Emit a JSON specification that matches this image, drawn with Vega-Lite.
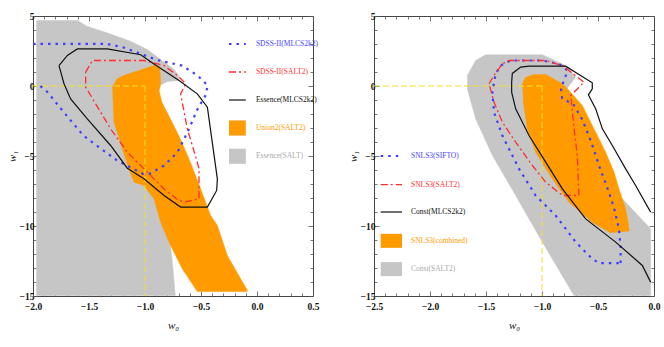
{
  "$schema": "https://vega.github.io/schema/vega-lite/v6.json",
  "autosize": {"type": "pad"},
  "padding": {"left": 5, "top": 10, "right": 0, "bottom": 0},
  "background": "white",
  "spacing": 61,
  "bounds": "flush",
  "config": {
    "view": {"stroke": "#444444", "strokeWidth": 1},
    "axis": {"domain": false, "grid": false, "tickColor": "#555555", "tickWidth": 0.8, "labelFont": "Liberation Serif", "labelFontSize": 9.5, "labelFontWeight": "bold", "labelColor": "#111111", "labelOverlap": false, "labelFlush": false, "titleFont": "Liberation Serif", "titleFontSize": 11, "titleFontStyle": "italic", "titleFontWeight": "normal", "titleColor": "#111111"}
  },
  "datasets": {
    "L": [
      {"s":"gray","g":"c","i":0,"x":-1.97,"y":4.68},{"s":"gray","g":"c","i":1,"x":-1.60,"y":4.68},{"s":"gray","g":"c","i":2,"x":-1.52,"y":4.27},{"s":"gray","g":"c","i":3,"x":-1.34,"y":3.80},{"s":"gray","g":"c","i":4,"x":-1.13,"y":3.20},{"s":"gray","g":"c","i":5,"x":-0.98,"y":2.61},{"s":"gray","g":"c","i":6,"x":-0.86,"y":1.89},{"s":"gray","g":"c","i":7,"x":-0.74,"y":1.18},{"s":"gray","g":"c","i":8,"x":-0.70,"y":0.75},{"s":"gray","g":"c","i":9,"x":-0.70,"y":0.39},{"s":"gray","g":"c","i":10,"x":-0.80,"y":0.32},{"s":"gray","g":"c","i":11,"x":-0.86,"y":0.08},{"s":"gray","g":"c","i":12,"x":-0.875,"y":-0.32},{"s":"gray","g":"c","i":13,"x":-0.87,"y":-1.2},{"s":"gray","g":"c","i":14,"x":-0.83,"y":-5.4},{"s":"gray","g":"c","i":15,"x":-0.79,"y":-10.2},{"s":"gray","g":"c","i":16,"x":-0.77,"y":-11.6},{"s":"gray","g":"c","i":17,"x":-0.75,"y":-13.06},{"s":"gray","g":"c","i":18,"x":-0.73,"y":-14.96},{"s":"gray","g":"c","i":19,"x":-1.97,"y":-14.96},
      {"s":"orange","g":"c","i":0,"x":-1.29,"y":-0.08},{"s":"orange","g":"c","i":1,"x":-1.25,"y":0.51},{"s":"orange","g":"c","i":2,"x":-1.19,"y":0.75},{"s":"orange","g":"c","i":3,"x":-0.92,"y":1.46},{"s":"orange","g":"c","i":4,"x":-0.87,"y":1.40},{"s":"orange","g":"c","i":5,"x":-0.86,"y":0.2},{"s":"orange","g":"c","i":6,"x":-0.875,"y":-0.32},{"s":"orange","g":"c","i":7,"x":-0.85,"y":-1.15},{"s":"orange","g":"c","i":8,"x":-0.774,"y":-2.34},{"s":"orange","g":"c","i":9,"x":-0.685,"y":-3.77},{"s":"orange","g":"c","i":10,"x":-0.595,"y":-5.44},{"s":"orange","g":"c","i":11,"x":-0.503,"y":-7.35},{"s":"orange","g":"c","i":12,"x":-0.414,"y":-9.25},{"s":"orange","g":"c","i":13,"x":-0.354,"y":-9.96},{"s":"orange","g":"c","i":14,"x":-0.265,"y":-12.1},{"s":"orange","g":"c","i":15,"x":-0.086,"y":-14.6},{"s":"orange","g":"c","i":16,"x":-0.09,"y":-14.68},{"s":"orange","g":"c","i":17,"x":-0.533,"y":-14.68},{"s":"orange","g":"c","i":18,"x":-0.667,"y":-13.06},{"s":"orange","g":"c","i":19,"x":-0.771,"y":-11.39},{"s":"orange","g":"c","i":20,"x":-0.86,"y":-9.73},{"s":"orange","g":"c","i":21,"x":-0.92,"y":-8.06},{"s":"orange","g":"c","i":22,"x":-1.009,"y":-7.11},{"s":"orange","g":"c","i":23,"x":-1.098,"y":-6.87},{"s":"orange","g":"c","i":24,"x":-1.143,"y":-5.92},{"s":"orange","g":"c","i":25,"x":-1.202,"y":-4.49},{"s":"orange","g":"c","i":26,"x":-1.277,"y":-2.58},{"s":"orange","g":"c","i":27,"x":-1.29,"y":-0.08},
      {"s":"yellow","g":"h","i":0,"x":-2.0,"y":0},{"s":"yellow","g":"h","i":1,"x":-1.0,"y":0},{"s":"yellow","g":"v","i":0,"x":-1.0,"y":0},{"s":"yellow","g":"v","i":1,"x":-1.0,"y":-15},
      {"s":"blue","g":"c","i":0,"x":-2.0,"y":3.01},{"s":"blue","g":"c","i":1,"x":-1.34,"y":3.01},{"s":"blue","g":"c","i":2,"x":-1.19,"y":2.75},{"s":"blue","g":"c","i":3,"x":-1.04,"y":2.30},{"s":"blue","g":"c","i":4,"x":-0.89,"y":1.85},{"s":"blue","g":"c","i":5,"x":-0.67,"y":1.46},{"s":"blue","g":"c","i":6,"x":-0.53,"y":0.75},{"s":"blue","g":"c","i":7,"x":-0.44,"y":0.04},{"s":"blue","g":"c","i":8,"x":-0.46,"y":-0.68},{"s":"blue","g":"c","i":9,"x":-0.53,"y":-1.63},{"s":"blue","g":"c","i":10,"x":-0.62,"y":-3.30},{"s":"blue","g":"c","i":11,"x":-0.71,"y":-4.73},{"s":"blue","g":"c","i":12,"x":-0.83,"y":-5.68},{"s":"blue","g":"c","i":13,"x":-0.96,"y":-6.27},{"s":"blue","g":"c","i":14,"x":-1.02,"y":-6.27},{"s":"blue","g":"c","i":15,"x":-1.25,"y":-5.32},{"s":"blue","g":"c","i":16,"x":-1.37,"y":-4.61},{"s":"blue","g":"c","i":17,"x":-1.55,"y":-3.54},{"s":"blue","g":"c","i":18,"x":-1.75,"y":-1.63},{"s":"blue","g":"c","i":19,"x":-1.87,"y":-0.44},{"s":"blue","g":"c","i":20,"x":-1.97,"y":0.23},
      {"s":"blue","g":"l","i":0,"x":-0.25,"y":3.0},{"s":"blue","g":"l","i":1,"x":-0.10,"y":3.0},
      {"s":"red","g":"c","i":0,"x":-1.53,"y":0.99},{"s":"red","g":"c","i":1,"x":-1.47,"y":1.82},{"s":"red","g":"c","i":2,"x":-1.01,"y":1.82},{"s":"red","g":"c","i":3,"x":-0.83,"y":1.46},{"s":"red","g":"c","i":4,"x":-0.71,"y":0.75},{"s":"red","g":"c","i":5,"x":-0.637,"y":0.16},{"s":"red","g":"c","i":6,"x":-0.682,"y":-0.56},{"s":"red","g":"c","i":7,"x":-0.622,"y":-3.06},{"s":"red","g":"c","i":8,"x":-0.533,"y":-5.44},{"s":"red","g":"c","i":9,"x":-0.518,"y":-5.92},{"s":"red","g":"c","i":10,"x":-0.518,"y":-8.06},{"s":"red","g":"c","i":11,"x":-0.652,"y":-8.30},{"s":"red","g":"c","i":12,"x":-0.711,"y":-8.11},{"s":"red","g":"c","i":13,"x":-0.83,"y":-7.35},{"s":"red","g":"c","i":14,"x":-1.009,"y":-5.92},{"s":"red","g":"c","i":15,"x":-1.158,"y":-4.73},{"s":"red","g":"c","i":16,"x":-1.307,"y":-3.06},{"s":"red","g":"c","i":17,"x":-1.485,"y":-0.68},{"s":"red","g":"c","i":18,"x":-1.53,"y":-0.08},{"s":"red","g":"c","i":19,"x":-1.53,"y":0.99},
      {"s":"red","g":"l","i":0,"x":-0.25,"y":1.0},{"s":"red","g":"l","i":1,"x":-0.10,"y":1.0},
      {"s":"black","g":"c","i":0,"x":-1.768,"y":1.46},{"s":"black","g":"c","i":1,"x":-1.693,"y":2.18},{"s":"black","g":"c","i":2,"x":-1.604,"y":2.65},{"s":"black","g":"c","i":3,"x":-1.336,"y":2.65},{"s":"black","g":"c","i":4,"x":-1.039,"y":2.23},{"s":"black","g":"c","i":5,"x":-0.92,"y":1.58},{"s":"black","g":"c","i":6,"x":-0.696,"y":0.39},{"s":"black","g":"c","i":7,"x":-0.533,"y":-0.56},{"s":"black","g":"c","i":8,"x":-0.443,"y":-1.51},{"s":"black","g":"c","i":9,"x":-0.354,"y":-6.63},{"s":"black","g":"c","i":10,"x":-0.36,"y":-7.46},{"s":"black","g":"c","i":11,"x":-0.443,"y":-8.65},{"s":"black","g":"c","i":12,"x":-0.682,"y":-8.65},{"s":"black","g":"c","i":13,"x":-0.83,"y":-7.82},{"s":"black","g":"c","i":14,"x":-1.009,"y":-6.63},{"s":"black","g":"c","i":15,"x":-1.158,"y":-5.87},{"s":"black","g":"c","i":16,"x":-1.307,"y":-4.25},{"s":"black","g":"c","i":17,"x":-1.515,"y":-2.35},{"s":"black","g":"c","i":18,"x":-1.664,"y":-0.92},{"s":"black","g":"c","i":19,"x":-1.723,"y":0.16},{"s":"black","g":"c","i":20,"x":-1.768,"y":1.46},
      {"s":"black","g":"l","i":0,"x":-0.25,"y":-1.0},{"s":"black","g":"l","i":1,"x":-0.10,"y":-1.0}
    ],
    "R": [
      {"s":"gray","g":"c","i":0,"x":-1.667,"y":0.75},{"s":"gray","g":"c","i":1,"x":-1.592,"y":1.82},{"s":"gray","g":"c","i":2,"x":-1.503,"y":2.23},{"s":"gray","g":"c","i":3,"x":-0.997,"y":2.23},{"s":"gray","g":"c","i":4,"x":-0.818,"y":1.58},{"s":"gray","g":"c","i":5,"x":-0.744,"y":1.11},{"s":"gray","g":"c","i":6,"x":-0.699,"y":0.63},{"s":"gray","g":"c","i":7,"x":-0.774,"y":-0.15},{"s":"gray","g":"c","i":8,"x":-0.72,"y":-1.5},{"s":"gray","g":"c","i":9,"x":-0.58,"y":-4.5},{"s":"gray","g":"c","i":10,"x":-0.40,"y":-7.5},{"s":"gray","g":"c","i":11,"x":-0.283,"y":-8.06},{"s":"gray","g":"c","i":12,"x":-0.03,"y":-10.2},{"s":"gray","g":"c","i":13,"x":-0.03,"y":-14.96},{"s":"gray","g":"c","i":14,"x":-0.714,"y":-14.96},{"s":"gray","g":"c","i":15,"x":-0.997,"y":-11.15},{"s":"gray","g":"c","i":16,"x":-1.235,"y":-7.82},{"s":"gray","g":"c","i":17,"x":-1.443,"y":-4.96},{"s":"gray","g":"c","i":18,"x":-1.592,"y":-2.35},{"s":"gray","g":"c","i":19,"x":-1.667,"y":-0.2},
      {"s":"orange","g":"c","i":0,"x":-1.176,"y":0.16},{"s":"orange","g":"c","i":1,"x":-1.146,"y":0.63},{"s":"orange","g":"c","i":2,"x":-1.071,"y":0.82},{"s":"orange","g":"c","i":3,"x":-0.967,"y":0.82},{"s":"orange","g":"c","i":4,"x":-0.818,"y":0.16},{"s":"orange","g":"c","i":5,"x":-0.759,"y":-0.32},{"s":"orange","g":"c","i":6,"x":-0.64,"y":-1.39},{"s":"orange","g":"c","i":7,"x":-0.521,"y":-3.30},{"s":"orange","g":"c","i":8,"x":-0.432,"y":-4.73},{"s":"orange","g":"c","i":9,"x":-0.357,"y":-6.15},{"s":"orange","g":"c","i":10,"x":-0.313,"y":-7.35},{"s":"orange","g":"c","i":11,"x":-0.253,"y":-8.77},{"s":"orange","g":"c","i":12,"x":-0.223,"y":-10.2},{"s":"orange","g":"c","i":13,"x":-0.223,"y":-10.35},{"s":"orange","g":"c","i":14,"x":-0.387,"y":-10.49},{"s":"orange","g":"c","i":15,"x":-0.551,"y":-9.73},{"s":"orange","g":"c","i":16,"x":-0.759,"y":-8.30},{"s":"orange","g":"c","i":17,"x":-0.908,"y":-6.63},{"s":"orange","g":"c","i":18,"x":-1.057,"y":-4.73},{"s":"orange","g":"c","i":19,"x":-1.131,"y":-3.06},{"s":"orange","g":"c","i":20,"x":-1.167,"y":-1.15},
      {"s":"yellow","g":"h","i":0,"x":-2.5,"y":0},{"s":"yellow","g":"h","i":1,"x":-1.0,"y":0},{"s":"yellow","g":"v","i":0,"x":-1.0,"y":0},{"s":"yellow","g":"v","i":1,"x":-1.0,"y":-15},
      {"s":"blue","g":"c","i":0,"x":-0.298,"y":-12.65},{"s":"blue","g":"c","i":1,"x":-0.298,"y":-11.5},{"s":"blue","g":"c","i":2,"x":-0.313,"y":-10.2},{"s":"blue","g":"c","i":3,"x":-0.36,"y":-8.6},{"s":"blue","g":"c","i":4,"x":-0.42,"y":-7.2},{"s":"blue","g":"c","i":5,"x":-0.491,"y":-5.68},{"s":"blue","g":"c","i":6,"x":-0.56,"y":-4.0},{"s":"blue","g":"c","i":7,"x":-0.64,"y":-2.4},{"s":"blue","g":"c","i":8,"x":-0.72,"y":-1.3},{"s":"blue","g":"c","i":9,"x":-0.82,"y":-0.9},{"s":"blue","g":"c","i":10,"x":-0.83,"y":-0.2},{"s":"blue","g":"c","i":11,"x":-0.80,"y":0.5},{"s":"blue","g":"c","i":12,"x":-0.77,"y":1.1},{"s":"blue","g":"c","i":13,"x":-0.85,"y":1.58},{"s":"blue","g":"c","i":14,"x":-0.997,"y":1.82},{"s":"blue","g":"c","i":15,"x":-1.28,"y":1.82},{"s":"blue","g":"c","i":16,"x":-1.369,"y":1.46},{"s":"blue","g":"c","i":17,"x":-1.414,"y":0.87},{"s":"blue","g":"c","i":18,"x":-1.443,"y":-0.44},{"s":"blue","g":"c","i":19,"x":-1.429,"y":-1.87},{"s":"blue","g":"c","i":20,"x":-1.354,"y":-3.54},{"s":"blue","g":"c","i":21,"x":-1.205,"y":-5.92},{"s":"blue","g":"c","i":22,"x":-1.057,"y":-7.82},{"s":"blue","g":"c","i":23,"x":-0.878,"y":-9.25},{"s":"blue","g":"c","i":24,"x":-0.699,"y":-11.15},{"s":"blue","g":"c","i":25,"x":-0.551,"y":-12.35},{"s":"blue","g":"c","i":26,"x":-0.491,"y":-12.65},{"s":"blue","g":"c","i":27,"x":-0.298,"y":-12.65},
      {"s":"blue","g":"l","i":0,"x":-2.44,"y":-5.0},{"s":"blue","g":"l","i":1,"x":-2.25,"y":-5.0},
      {"s":"red","g":"c","i":0,"x":-1.473,"y":0.16},{"s":"red","g":"c","i":1,"x":-1.429,"y":0.75},{"s":"red","g":"c","i":2,"x":-1.354,"y":1.58},{"s":"red","g":"c","i":3,"x":-1.295,"y":1.82},{"s":"red","g":"c","i":4,"x":-0.967,"y":1.82},{"s":"red","g":"c","i":5,"x":-0.818,"y":1.46},{"s":"red","g":"c","i":6,"x":-0.625,"y":0.27},{"s":"red","g":"c","i":7,"x":-0.699,"y":-0.32},{"s":"red","g":"c","i":8,"x":-0.744,"y":-0.68},{"s":"red","g":"c","i":9,"x":-0.714,"y":-3.0},{"s":"red","g":"c","i":10,"x":-0.685,"y":-4.96},{"s":"red","g":"c","i":11,"x":-0.67,"y":-7.82},{"s":"red","g":"c","i":12,"x":-0.818,"y":-7.82},{"s":"red","g":"c","i":13,"x":-0.967,"y":-6.87},{"s":"red","g":"c","i":14,"x":-1.086,"y":-5.68},{"s":"red","g":"c","i":15,"x":-1.235,"y":-4.01},{"s":"red","g":"c","i":16,"x":-1.354,"y":-2.58},{"s":"red","g":"c","i":17,"x":-1.429,"y":-1.15},{"s":"red","g":"c","i":18,"x":-1.473,"y":0.16},
      {"s":"red","g":"l","i":0,"x":-2.44,"y":-7.04},{"s":"red","g":"l","i":1,"x":-2.25,"y":-7.04},
      {"s":"black","g":"c","i":0,"x":-0.03,"y":-9.01},{"s":"black","g":"c","i":1,"x":-0.164,"y":-7.11},{"s":"black","g":"c","i":2,"x":-0.253,"y":-5.92},{"s":"black","g":"c","i":3,"x":-0.372,"y":-4.25},{"s":"black","g":"c","i":4,"x":-0.461,"y":-3.06},{"s":"black","g":"c","i":5,"x":-0.521,"y":-1.63},{"s":"black","g":"c","i":6,"x":-0.586,"y":-0.63},{"s":"black","g":"c","i":7,"x":-0.551,"y":-0.2},{"s":"black","g":"c","i":8,"x":-0.551,"y":0.23},{"s":"black","g":"c","i":9,"x":-0.789,"y":1.42},{"s":"black","g":"c","i":10,"x":-1.116,"y":1.42},{"s":"black","g":"c","i":11,"x":-1.19,"y":1.35},{"s":"black","g":"c","i":12,"x":-1.265,"y":0.9},{"s":"black","g":"c","i":13,"x":-1.271,"y":0.27},{"s":"black","g":"c","i":14,"x":-1.271,"y":-0.44},{"s":"black","g":"c","i":15,"x":-1.235,"y":-1.63},{"s":"black","g":"c","i":16,"x":-1.116,"y":-3.54},{"s":"black","g":"c","i":17,"x":-0.967,"y":-5.44},{"s":"black","g":"c","i":18,"x":-0.818,"y":-7.35},{"s":"black","g":"c","i":19,"x":-0.61,"y":-9.49},{"s":"black","g":"c","i":20,"x":-0.342,"y":-11.15},{"s":"black","g":"c","i":21,"x":-0.104,"y":-12.82},{"s":"black","g":"c","i":22,"x":-0.03,"y":-14.01},
      {"s":"black","g":"l","i":0,"x":-2.44,"y":-9.0},{"s":"black","g":"l","i":1,"x":-2.25,"y":-9.0}
    ],
    "rectL": [
      {"s":"orange","x":-0.25,"x2":-0.10,"y":-2.46,"y2":-3.54},
      {"s":"gray","x":-0.25,"x2":-0.10,"y":-4.48,"y2":-5.56}
    ],
    "rectR": [
      {"s":"orange","x":-2.44,"x2":-2.25,"y":-10.56,"y2":-11.56},
      {"s":"gray","x":-2.44,"x2":-2.25,"y":-12.58,"y2":-13.58}
    ],
    "txtL": [
      {"s":"blue","x":-0.01,"y":3.0,"t":"SDSS-II(MLCS2k2)"},
      {"s":"red","x":-0.01,"y":1.0,"t":"SDSS-II(SALT2)"},
      {"s":"black","x":-0.01,"y":-1.0,"t":"Essence(MLCS2k2)"},
      {"s":"orange","x":-0.01,"y":-3.0,"t":"Union2(SALT2)"},
      {"s":"gray","x":-0.01,"y":-5.0,"t":"Essence(SALT)"}
    ],
    "txtR": [
      {"s":"blue","x":-2.17,"y":-5.0,"t":"SNLS3(SIFTO)"},
      {"s":"red","x":-2.17,"y":-7.04,"t":"SNLS3(SALT2)"},
      {"s":"black","x":-2.17,"y":-9.0,"t":"Const(MLCS2k2)"},
      {"s":"orange","x":-2.17,"y":-11.05,"t":"SNLS3(combined)"},
      {"s":"gray","x":-2.17,"y":-13.08,"t":"Const(SALT2)"}
    ]
  },
  "hconcat": [
    {
      "width": 280, "height": 280,
      "data": {"name": "L"},
      "resolve": {"axis": {"x": "independent", "y": "independent"}},
      "layer": [
        {
          "transform": [{"filter": "datum.s === 'gray'"}],
          "mark": {"type": "line", "fill": "#c6c6c6", "stroke": "#c6c6c6", "strokeWidth": 0.5},
          "encoding": {
            "x": {"field": "x", "type": "quantitative", "scale": {"domain": [-2, 0.5], "nice": false, "zero": false},
              "axis": {"orient": "bottom", "values": [-2,-1.9,-1.8,-1.7,-1.6,-1.5,-1.4,-1.3,-1.2,-1.1,-1,-0.9,-0.8,-0.7,-0.6,-0.5,-0.4,-0.3,-0.2,-0.1,0,0.1,0.2,0.3,0.4,0.5], "format": ".1f",
                "labelExpr": "abs(datum.value*2-round(datum.value*2))<0.001 ? datum.label : ''",
                "tickSize": {"condition": {"test": "abs(datum.value*2-round(datum.value*2))<0.001", "value": -5}, "value": -3},
                "labelPadding": 10, "title": "w₀", "titlePadding": 7}},
            "y": {"field": "y", "type": "quantitative", "scale": {"domain": [-15, 5], "nice": false, "zero": false},
              "axis": {"orient": "left", "values": [-15,-14,-13,-12,-11,-10,-9,-8,-7,-6,-5,-4,-3,-2,-1,0,1,2,3,4,5],
                "labelExpr": "datum.value % 5 === 0 ? datum.label : ''",
                "tickSize": {"condition": {"test": "datum.value % 5 === 0", "value": -5}, "value": -3},
                "labelPadding": 4, "title": "w₁", "titlePadding": 2}},
            "order": {"field": "i", "type": "quantitative"}
          }
        },
        {
          "transform": [{"filter": "datum.s === 'orange'"}],
          "mark": {"type": "line", "fill": "#ff9b00", "stroke": "#ff9b00", "strokeWidth": 0.5},
          "encoding": {
            "x": {"field": "x", "type": "quantitative", "scale": {"domain": [-2, 0.5], "nice": false, "zero": false},
              "axis": {"orient": "top", "values": [-2,-1.9,-1.8,-1.7,-1.6,-1.5,-1.4,-1.3,-1.2,-1.1,-1,-0.9,-0.8,-0.7,-0.6,-0.5,-0.4,-0.3,-0.2,-0.1,0,0.1,0.2,0.3,0.4,0.5], "labels": false, "title": null,
                "tickSize": {"condition": {"test": "abs(datum.value*2-round(datum.value*2))<0.001", "value": -5}, "value": -3}}},
            "y": {"field": "y", "type": "quantitative", "scale": {"domain": [-15, 5], "nice": false, "zero": false},
              "axis": {"orient": "right", "values": [-15,-14,-13,-12,-11,-10,-9,-8,-7,-6,-5,-4,-3,-2,-1,0,1,2,3,4,5], "labels": false, "title": null,
                "tickSize": {"condition": {"test": "datum.value % 5 === 0", "value": -5}, "value": -3}}},
            "order": {"field": "i", "type": "quantitative"}
          }
        },
        {
          "transform": [{"filter": "datum.s === 'yellow'"}],
          "mark": {"type": "line", "stroke": "#f2e21e", "strokeWidth": 1, "strokeDash": [6, 3]},
          "encoding": {"x": {"field": "x", "type": "quantitative", "axis": null}, "y": {"field": "y", "type": "quantitative", "axis": null}, "detail": {"field": "g"}, "order": {"field": "i", "type": "quantitative"}}
        },
        {
          "transform": [{"filter": "datum.s === 'blue'"}],
          "mark": {"type": "line", "stroke": "#3f3fff", "strokeWidth": 2.2, "strokeDash": [2.5, 5]},
          "encoding": {"x": {"field": "x", "type": "quantitative", "axis": null}, "y": {"field": "y", "type": "quantitative", "axis": null}, "detail": {"field": "g"}, "order": {"field": "i", "type": "quantitative"}}
        },
        {
          "transform": [{"filter": "datum.s === 'red'"}],
          "mark": {"type": "line", "stroke": "#ff2e2e", "strokeWidth": 1.3, "strokeDash": [7, 3, 2, 3]},
          "encoding": {"x": {"field": "x", "type": "quantitative", "axis": null}, "y": {"field": "y", "type": "quantitative", "axis": null}, "detail": {"field": "g"}, "order": {"field": "i", "type": "quantitative"}}
        },
        {
          "transform": [{"filter": "datum.s === 'black'"}],
          "mark": {"type": "line", "stroke": "#111111", "strokeWidth": 1.2},
          "encoding": {"x": {"field": "x", "type": "quantitative", "axis": null}, "y": {"field": "y", "type": "quantitative", "axis": null}, "detail": {"field": "g"}, "order": {"field": "i", "type": "quantitative"}}
        },
        {
          "data": {"name": "rectL"},
          "mark": {"type": "rect"},
          "encoding": {"x": {"field": "x", "type": "quantitative", "axis": null}, "x2": {"field": "x2"}, "y": {"field": "y", "type": "quantitative", "axis": null}, "y2": {"field": "y2"},
            "fill": {"field": "s", "type": "nominal", "scale": {"domain": ["orange", "gray"], "range": ["#ff9b00", "#c6c6c6"]}, "legend": null}}
        },
        {
          "data": {"name": "txtL"},
          "mark": {"type": "text", "align": "left", "baseline": "middle", "font": "Liberation Serif", "fontSize": 7.5},
          "encoding": {"x": {"field": "x", "type": "quantitative", "axis": null}, "y": {"field": "y", "type": "quantitative", "axis": null}, "text": {"field": "t"},
            "color": {"field": "s", "type": "nominal", "scale": {"domain": ["blue", "red", "black", "orange", "gray"], "range": ["#4444ff", "#ff3333", "#111111", "#ff9b00", "#aaaaaa"]}, "legend": null}}
        }
      ]
    },
    {
      "width": 280, "height": 280,
      "data": {"name": "R"},
      "resolve": {"axis": {"x": "independent", "y": "independent"}},
      "layer": [
        {
          "transform": [{"filter": "datum.s === 'gray'"}],
          "mark": {"type": "line", "fill": "#c6c6c6", "stroke": "#c6c6c6", "strokeWidth": 0.5},
          "encoding": {
            "x": {"field": "x", "type": "quantitative", "scale": {"domain": [-2.5, 0], "nice": false, "zero": false},
              "axis": {"orient": "bottom", "values": [-2.5,-2.4,-2.3,-2.2,-2.1,-2,-1.9,-1.8,-1.7,-1.6,-1.5,-1.4,-1.3,-1.2,-1.1,-1,-0.9,-0.8,-0.7,-0.6,-0.5,-0.4,-0.3,-0.2,-0.1,0], "format": ".1f",
                "labelExpr": "abs(datum.value*2-round(datum.value*2))<0.001 ? datum.label : ''",
                "tickSize": {"condition": {"test": "abs(datum.value*2-round(datum.value*2))<0.001", "value": -5}, "value": -3},
                "labelPadding": 10, "title": "w₀", "titlePadding": 7}},
            "y": {"field": "y", "type": "quantitative", "scale": {"domain": [-15, 5], "nice": false, "zero": false},
              "axis": {"orient": "left", "values": [-15,-14,-13,-12,-11,-10,-9,-8,-7,-6,-5,-4,-3,-2,-1,0,1,2,3,4,5],
                "labelExpr": "datum.value % 5 === 0 ? datum.label : ''",
                "tickSize": {"condition": {"test": "datum.value % 5 === 0", "value": -5}, "value": -3},
                "labelPadding": 4, "title": "w₁", "titlePadding": 2}},
            "order": {"field": "i", "type": "quantitative"}
          }
        },
        {
          "transform": [{"filter": "datum.s === 'orange'"}],
          "mark": {"type": "line", "fill": "#ff9b00", "stroke": "#ff9b00", "strokeWidth": 0.5},
          "encoding": {
            "x": {"field": "x", "type": "quantitative", "scale": {"domain": [-2.5, 0], "nice": false, "zero": false},
              "axis": {"orient": "top", "values": [-2.5,-2.4,-2.3,-2.2,-2.1,-2,-1.9,-1.8,-1.7,-1.6,-1.5,-1.4,-1.3,-1.2,-1.1,-1,-0.9,-0.8,-0.7,-0.6,-0.5,-0.4,-0.3,-0.2,-0.1,0], "labels": false, "title": null,
                "tickSize": {"condition": {"test": "abs(datum.value*2-round(datum.value*2))<0.001", "value": -5}, "value": -3}}},
            "y": {"field": "y", "type": "quantitative", "scale": {"domain": [-15, 5], "nice": false, "zero": false},
              "axis": {"orient": "right", "values": [-15,-14,-13,-12,-11,-10,-9,-8,-7,-6,-5,-4,-3,-2,-1,0,1,2,3,4,5], "labels": false, "title": null,
                "tickSize": {"condition": {"test": "datum.value % 5 === 0", "value": -5}, "value": -3}}},
            "order": {"field": "i", "type": "quantitative"}
          }
        },
        {
          "transform": [{"filter": "datum.s === 'yellow'"}],
          "mark": {"type": "line", "stroke": "#f2e21e", "strokeWidth": 1, "strokeDash": [6, 3]},
          "encoding": {"x": {"field": "x", "type": "quantitative", "axis": null}, "y": {"field": "y", "type": "quantitative", "axis": null}, "detail": {"field": "g"}, "order": {"field": "i", "type": "quantitative"}}
        },
        {
          "transform": [{"filter": "datum.s === 'blue'"}],
          "mark": {"type": "line", "stroke": "#3f3fff", "strokeWidth": 2.2, "strokeDash": [2.5, 5]},
          "encoding": {"x": {"field": "x", "type": "quantitative", "axis": null}, "y": {"field": "y", "type": "quantitative", "axis": null}, "detail": {"field": "g"}, "order": {"field": "i", "type": "quantitative"}}
        },
        {
          "transform": [{"filter": "datum.s === 'red'"}],
          "mark": {"type": "line", "stroke": "#ff2e2e", "strokeWidth": 1.3, "strokeDash": [7, 3, 2, 3]},
          "encoding": {"x": {"field": "x", "type": "quantitative", "axis": null}, "y": {"field": "y", "type": "quantitative", "axis": null}, "detail": {"field": "g"}, "order": {"field": "i", "type": "quantitative"}}
        },
        {
          "transform": [{"filter": "datum.s === 'black'"}],
          "mark": {"type": "line", "stroke": "#111111", "strokeWidth": 1.2},
          "encoding": {"x": {"field": "x", "type": "quantitative", "axis": null}, "y": {"field": "y", "type": "quantitative", "axis": null}, "detail": {"field": "g"}, "order": {"field": "i", "type": "quantitative"}}
        },
        {
          "data": {"name": "rectR"},
          "mark": {"type": "rect"},
          "encoding": {"x": {"field": "x", "type": "quantitative", "axis": null}, "x2": {"field": "x2"}, "y": {"field": "y", "type": "quantitative", "axis": null}, "y2": {"field": "y2"},
            "fill": {"field": "s", "type": "nominal", "scale": {"domain": ["orange", "gray"], "range": ["#ff9b00", "#c6c6c6"]}, "legend": null}}
        },
        {
          "data": {"name": "txtR"},
          "mark": {"type": "text", "align": "left", "baseline": "middle", "font": "Liberation Serif", "fontSize": 7.5},
          "encoding": {"x": {"field": "x", "type": "quantitative", "axis": null}, "y": {"field": "y", "type": "quantitative", "axis": null}, "text": {"field": "t"},
            "color": {"field": "s", "type": "nominal", "scale": {"domain": ["blue", "red", "black", "orange", "gray"], "range": ["#4444ff", "#ff3333", "#111111", "#ff9b00", "#aaaaaa"]}, "legend": null}}
        }
      ]
    }
  ]
}
